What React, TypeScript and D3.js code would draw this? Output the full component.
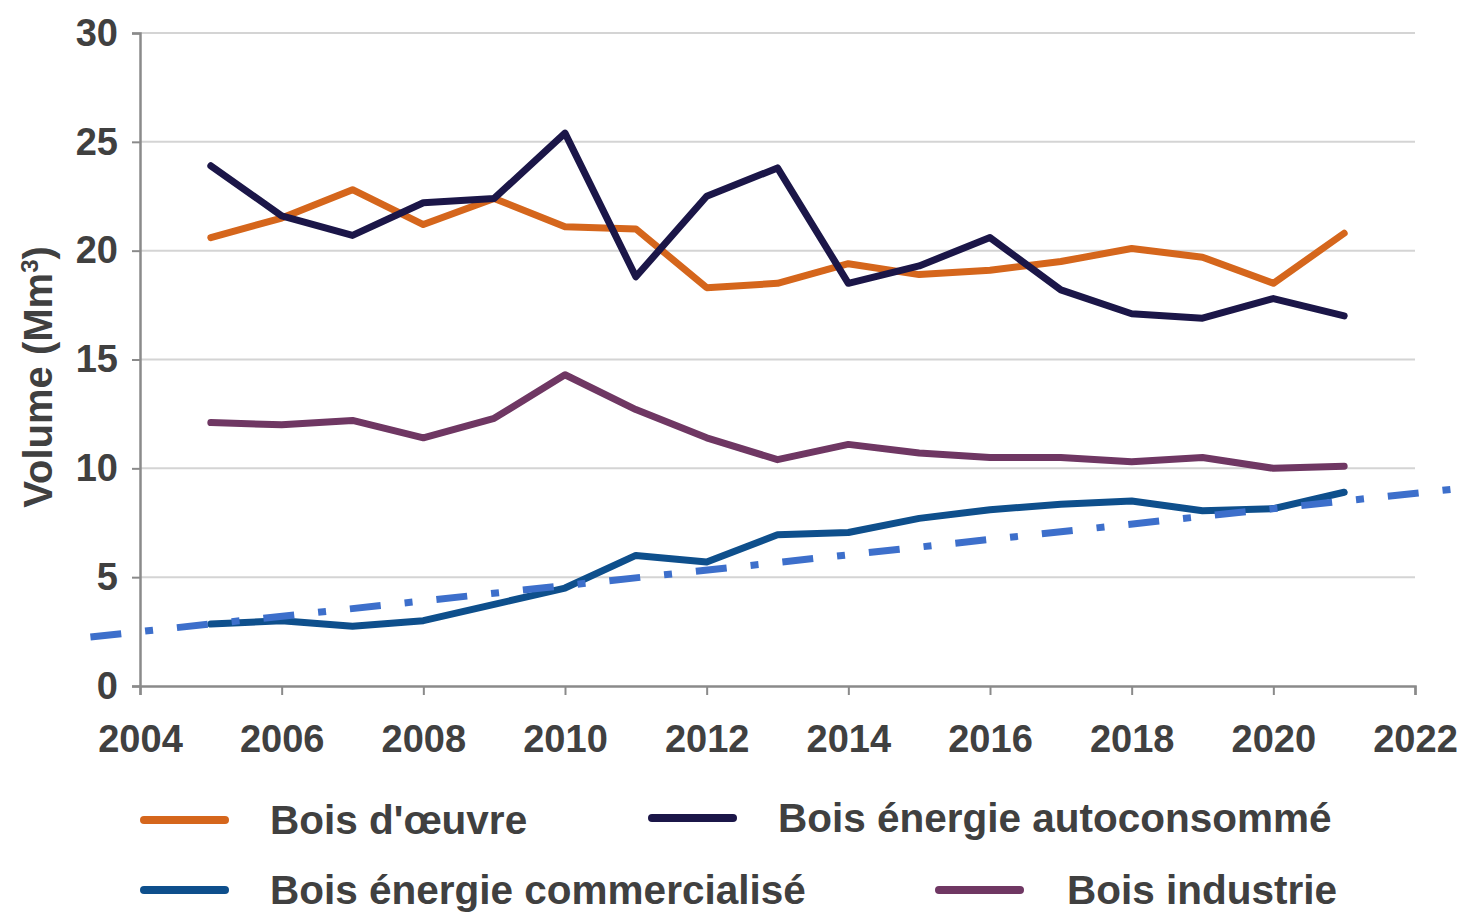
import React, { useEffect, useRef } from 'react'
import * as d3 from 'd3'

// values (Mm3)
const years = [2005, 2006, 2007, 2008, 2009, 2010, 2011, 2012, 2013, 2014, 2015, 2016, 2017, 2018, 2019, 2020, 2021]
const boisOeuvre = [20.6, 21.5, 22.8, 21.2, 22.4, 21.1, 21.0, 18.3, 18.5, 19.4, 18.9, 19.1, 19.5, 20.1, 19.7, 18.5, 20.8]
const boisAutoconsomme = [23.9, 21.6, 20.7, 22.2, 22.4, 25.4, 18.8, 22.5, 23.8, 18.5, 19.3, 20.6, 18.2, 17.1, 16.9, 17.8, 17.0]
const boisCommercialise = [2.85, 3.0, 2.75, 3.0, 3.75, 4.5, 6.0, 5.7, 6.95, 7.05, 7.7, 8.1, 8.35, 8.5, 8.05, 8.15, 8.9]
const boisIndustrie = [12.1, 12.0, 12.2, 11.4, 12.3, 14.3, 12.7, 11.4, 10.4, 11.1, 10.7, 10.5, 10.5, 10.3, 10.5, 10.0, 10.1]

// linear trend of the commercialised wood, drawn past the plot edges
const trendYears = [2003.3, 2022.7]
const trendValues = [2.25, 9.1]

const xTicks = [2004, 2006, 2008, 2010, 2012, 2014, 2016, 2018, 2020, 2022]
const yTicks = [0, 5, 10, 15, 20, 25, 30]

const seriesNames = ["Bois d'œuvre", 'Bois énergie autoconsommé', 'Bois énergie commercialisé', 'Bois industrie']
const seriesColors = ['#d5661c', '#1b1648', '#0e4f8c', '#6f3763']

export default function App() {
    const ref = useRef<SVGSVGElement | null>(null)

    useEffect(() => {
        const WIDTH = 1465,
            HEIGHT = 915,
            MARGINS = { top: 33, right: 50, bottom: 229, left: 140 },
            textColor = '#404040',
            font = '"Liberation Sans", Arial, sans-serif'

        const svg = d3.select(ref.current)
        svg.selectAll('*').remove()

        const x = d3.scaleLinear().domain([2004, 2022]).range([MARGINS.left, WIDTH - MARGINS.right])
        const y = d3.scaleLinear().domain([0, 30]).range([HEIGHT - MARGINS.bottom, MARGINS.top])

        svg.append('rect').attr('width', WIDTH).attr('height', HEIGHT).attr('fill', '#fff')

        // gridlines
        svg.append('g')
            .selectAll('line')
            .data(yTicks.filter(t => t > 0))
            .join('line')
            .attr('x1', MARGINS.left)
            .attr('x2', WIDTH - MARGINS.right)
            .attr('y1', d => y(d))
            .attr('y2', d => y(d))
            .attr('stroke', '#d4d4d4')
            .attr('stroke-width', 2)

        // y axis
        const yAxis = svg.append('g')
            .attr('transform', 'translate(' + MARGINS.left + ',0)')
            .call(d3.axisLeft(y).tickValues(yTicks).tickSize(8).tickPadding(14))
        yAxis.select('.domain').attr('stroke', '#8a8a8a').attr('stroke-width', 2.5)
        yAxis.selectAll('.tick line').attr('stroke', '#8a8a8a').attr('stroke-width', 2)
        yAxis.selectAll('.tick text')
            .attr('fill', textColor)
            .style('font-family', font)
            .style('font-size', '38px')
            .style('font-weight', 'bold')

        // x axis
        const xAxis = svg.append('g')
            .attr('transform', 'translate(0,' + y(0) + ')')
            .call(d3.axisBottom(x).tickValues(xTicks).tickFormat(d3.format('d')).tickSize(9).tickPadding(30))
        xAxis.select('.domain').attr('stroke', '#8a8a8a').attr('stroke-width', 2.5)
        xAxis.selectAll('.tick line').attr('stroke', '#8a8a8a').attr('stroke-width', 2)
        xAxis.selectAll('.tick text')
            .attr('fill', textColor)
            .attr('dy', '0.72em')
            .style('font-family', font)
            .style('font-size', '38px')
            .style('font-weight', 'bold')

        // y axis title
        svg.append('text')
            .attr('transform', 'translate(52,' + y(14.2) + ') rotate(-90)')
            .attr('text-anchor', 'middle')
            .attr('fill', textColor)
            .style('font-family', font)
            .style('font-size', '40px')
            .style('font-weight', 'bold')
            .text('Volume (Mm')
            .append('tspan').attr('dy', -14).style('font-size', '24px').text('3')
            .select(function () { return this.parentNode as any })
            .append('tspan').attr('dy', 14).text(')')

        const valueline = d3.line<number>()
            .x((d, i) => x(years[i]))
            .y(d => y(d))

        const allSeries = [boisOeuvre, boisAutoconsomme, boisCommercialise, boisIndustrie]
        // draw order: industrie, commercialisé, oeuvre, autoconsommé
        const order = [3, 2, 0, 1]
        order.forEach(i => {
            svg.append('path')
                .datum(allSeries[i])
                .attr('d', valueline)
                .attr('fill', 'none')
                .attr('stroke', seriesColors[i])
                .attr('stroke-width', 7)
                .attr('stroke-linejoin', 'round')
                .attr('stroke-linecap', 'round')
        })

        // trend line
        svg.append('path')
            .datum(trendValues)
            .attr('d', d3.line<number>().x((d, i) => x(trendYears[i])).y(d => y(d)))
            .attr('fill', 'none')
            .attr('stroke', '#3d6fcb')
            .attr('stroke-width', 7)
            .attr('stroke-dasharray', '31 24 8 24')

        // legend
        const legend = [
            { i: 0, sx: 140, tx: 270, ly: 820 },
            { i: 1, sx: 648, tx: 778, ly: 818 },
            { i: 2, sx: 140, tx: 270, ly: 890 },
            { i: 3, sx: 935, tx: 1067, ly: 890 }
        ]
        const lg = svg.append('g')
        legend.forEach(l => {
            lg.append('line')
                .attr('x1', l.sx + 4)
                .attr('x2', l.sx + 85)
                .attr('y1', l.ly)
                .attr('y2', l.ly)
                .attr('stroke', seriesColors[l.i])
                .attr('stroke-width', 8)
                .attr('stroke-linecap', 'round')
            lg.append('text')
                .attr('x', l.tx)
                .attr('y', l.ly)
                .attr('dy', '0.34em')
                .attr('fill', textColor)
                .style('font-family', font)
                .style('font-size', '40.5px')
                .style('font-weight', 'bold')
                .text(seriesNames[l.i])
        })
    }, [])

    return (
        <svg ref={ref} width={1465} height={915}
            style={{ position: 'absolute', left: 0, top: 0, display: 'block' }} />
    )
}
